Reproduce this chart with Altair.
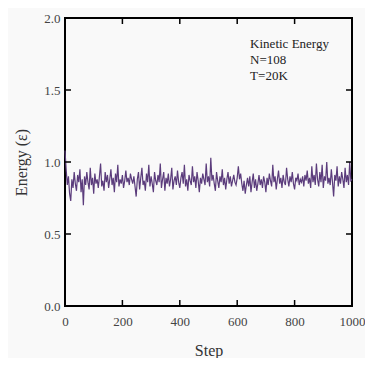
import altair as alt
import pandas as pd

energy = [
    1.08, 0.95, 0.84, 0.90, 0.78, 0.73, 0.88, 0.82, 0.93, 0.85,
    0.80, 0.91, 0.86, 0.95, 0.79, 0.88, 0.70, 0.90, 0.84, 0.93,
    0.86, 0.81, 0.96, 0.84, 0.89, 0.78, 0.92, 0.85, 0.88, 0.82,
    0.90, 0.99, 0.83, 0.87, 0.80, 0.93, 0.86, 0.91, 0.82, 0.88,
    0.95, 0.84, 0.89, 0.79, 0.92, 0.86, 0.98, 0.83, 0.88, 0.85,
    0.91, 0.82, 0.87, 0.94, 0.86, 0.89, 0.84, 0.92, 0.88, 0.85,
    0.90, 0.83, 0.76, 0.88, 0.93, 0.81, 0.89, 0.96, 0.84, 0.87,
    0.80, 0.92, 0.86, 0.98, 0.83, 0.90, 0.85, 0.79, 0.93, 0.87,
    0.84, 0.91, 0.86, 0.99, 0.82, 0.88, 0.93, 0.80, 0.89, 0.85,
    0.92, 0.83, 0.88, 0.96, 0.81, 0.87, 0.90, 0.84, 0.94, 0.86,
    0.82, 0.89, 0.93, 0.85, 0.98, 0.83, 0.88, 0.80, 0.91, 0.87,
    0.84, 0.97, 0.86, 0.90, 0.82, 0.93, 0.87, 0.79, 0.89, 0.85,
    0.92, 0.88, 0.84, 0.99, 0.86, 0.90, 0.83, 1.03, 0.87, 0.91,
    0.85, 0.80, 0.93, 0.87, 0.82, 0.90, 0.86, 0.95, 0.84, 0.89,
    0.81, 0.88, 0.93, 0.85, 0.90, 0.83, 0.87, 0.91, 0.86, 0.84,
    0.89, 0.97, 0.88, 0.92, 0.85, 0.80, 0.87, 0.78, 0.84, 0.89,
    0.83, 0.90, 0.79, 0.86, 0.92, 0.82, 0.88, 0.80, 0.85, 0.91,
    0.84, 0.88, 0.82, 0.90, 0.86, 0.79, 0.89, 0.84, 0.92, 0.87,
    0.83, 0.98, 0.86, 0.90, 0.81, 0.88, 0.94, 0.85, 0.89, 0.82,
    0.91, 0.86, 0.84, 0.96, 0.88, 0.83, 0.90, 0.86, 0.93, 0.85,
    0.81, 0.89, 0.87, 0.92, 0.84, 0.88, 0.86, 0.90, 0.83, 0.91,
    0.87, 0.94, 0.85, 0.89, 0.82, 0.97, 0.86, 0.91, 0.84, 0.99,
    0.88, 0.83, 0.93, 0.86, 0.98, 0.82, 0.90, 0.87, 1.00, 0.85,
    0.89, 0.84, 0.95, 0.86, 0.76, 0.91, 0.87, 0.97, 0.83, 0.90,
    0.85, 0.93, 0.88, 0.82, 0.96, 0.86, 0.91, 0.84, 1.00, 0.87,
    0.88,
]
steps = [4 * i for i in range(len(energy))]

x_ticks = [200, 400, 600, 800]
y_ticks = [0.5, 1.0, 1.5]
notes = ["Kinetic Energy", "N=108", "T=20K"]
note_y = [1.82, 1.71, 1.60]
note_x = 645

FONT = "Liberation Serif"
W, H = 287, 288
TL = 6

df = pd.DataFrame({"step": steps, "energy": energy})
xscale = alt.Scale(domain=[0, 1000], nice=False, zero=False)
yscale = alt.Scale(domain=[0, 2], nice=False, zero=False)

line = alt.Chart(df).mark_line(color="#5b3c7c", strokeWidth=1.2).encode(
    x=alt.X("step:Q", scale=xscale,
            axis=alt.Axis(title="Step", values=[0, 200, 400, 600, 800, 1000],
                          format="d", tickSize=0, domain=False, grid=False,
                          labelFlush=False,
                          labelPadding=9, labelFont=FONT, labelFontSize=13,
                          labelColor="#444", titleFont=FONT, titleFontSize=16,
                          titleFontWeight="normal", titleColor="#333",
                          titlePadding=14)),
    y=alt.Y("energy:Q", scale=yscale,
            axis=alt.Axis(title="Energy (ε)", values=[0, 0.5, 1.0, 1.5, 2.0],
                          format=".1f", tickSize=0, domain=False, grid=False,
                          labelFlush=False,
                          labelPadding=5, labelFont=FONT, labelFontSize=13,
                          labelColor="#444", titleFont=FONT, titleFontSize=16,
                          titleFontWeight="normal", titleColor="#333",
                          titlePadding=14)),
)

xt = pd.DataFrame({"step": x_ticks})
yt = pd.DataFrame({"energy": y_ticks})

bottom_ticks = alt.Chart(xt).mark_rule(color="black", strokeWidth=1.5).encode(
    x=alt.X("step:Q", scale=xscale), y=alt.value(H), y2=alt.value(H - TL))
top_ticks = alt.Chart(xt).mark_rule(color="black", strokeWidth=1.5).encode(
    x=alt.X("step:Q", scale=xscale), y=alt.value(0), y2=alt.value(TL))
left_ticks = alt.Chart(yt).mark_rule(color="black", strokeWidth=1.5).encode(
    y=alt.Y("energy:Q", scale=yscale), x=alt.value(0), x2=alt.value(TL))
right_ticks = alt.Chart(yt).mark_rule(color="black", strokeWidth=1.5).encode(
    y=alt.Y("energy:Q", scale=yscale), x=alt.value(W), x2=alt.value(W - TL))

nd = pd.DataFrame({"label": notes, "energy": note_y, "step": [note_x] * 3})
text = alt.Chart(nd).mark_text(align="left", baseline="middle", font=FONT,
                               fontSize=13, color="#222").encode(
    x=alt.X("step:Q", scale=xscale), y=alt.Y("energy:Q", scale=yscale),
    text="label:N")

chart = alt.layer(line, bottom_ticks, top_ticks, left_ticks, right_ticks, text).properties(
    width=W, height=H,
    autosize=alt.AutoSizeParams(type="none"),
    padding={"left": 57, "top": 10, "right": 13, "bottom": 52},
    background="#f9f9f9",
).configure_view(stroke="black", strokeWidth=2)

chart.save("out.html", embed_options={"renderer": "svg", "actions": False})
